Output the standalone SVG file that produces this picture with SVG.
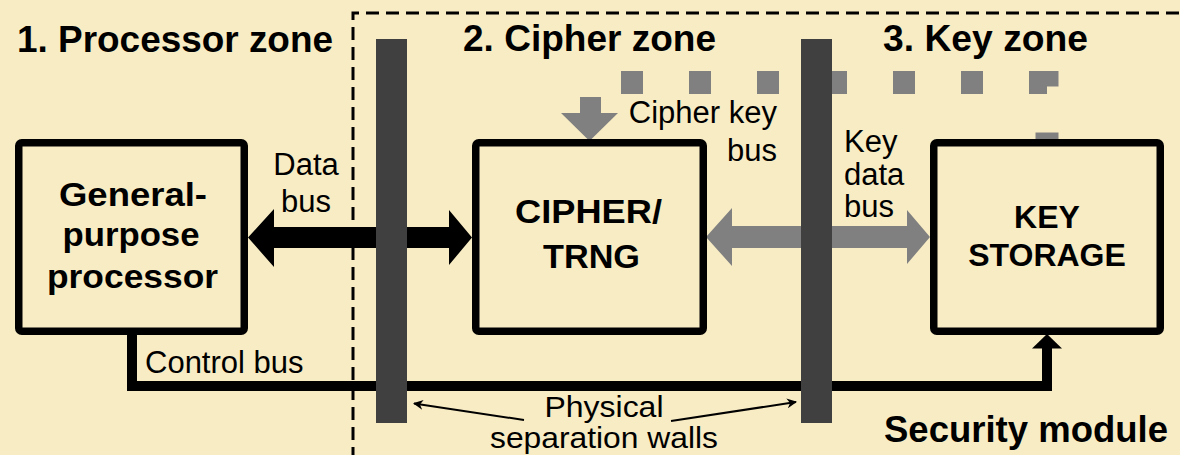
<svg xmlns="http://www.w3.org/2000/svg" width="1180" height="455" viewBox="0 0 1180 455">
<defs>
<style>
.bg{fill:#F8ECC4}
.box{fill:#F8ECC4;stroke:#000;stroke-width:7.5}
.wall{fill:#404040}
.title{font-family:"Liberation Sans",Arial,sans-serif;font-weight:bold;font-size:37px;fill:#000}
.blab{font-family:"Liberation Sans",Arial,sans-serif;font-weight:bold;font-size:34px;fill:#000;text-anchor:middle}
.lab{font-family:"Liberation Sans",Arial,sans-serif;font-size:31px;fill:#000}
.thin{stroke:#000;stroke-width:2;fill:none;marker-end:url(#ah)}
</style>
<marker id="ah" viewBox="0 0 10 10" refX="9" refY="5" markerWidth="5" markerHeight="5" orient="auto" markerUnits="strokeWidth">
<path d="M0,0 L10,5 L0,10 L3,5 Z" fill="#000"/>
</marker>
</defs>
<rect class="bg" x="0" y="0" width="1180" height="455"/>

<g id="security-module">
<path d="M353,460 V13 H1185" fill="none" stroke="#000" stroke-width="3" stroke-dasharray="13 7"/>
<text class="title" x="884" y="442" textLength="284" lengthAdjust="spacingAndGlyphs">Security module</text>
</g>

<g id="zone-titles">
<text class="title" x="17" y="52" textLength="316" lengthAdjust="spacingAndGlyphs">1. Processor zone</text>
<text class="title" x="463" y="51" textLength="253" lengthAdjust="spacingAndGlyphs">2. Cipher zone</text>
<text class="title" x="883" y="51" textLength="205" lengthAdjust="spacingAndGlyphs">3. Key zone</text>
</g>

<g id="connectors">
<path d="M621,82.5 H1047 V143" fill="none" stroke="#808080" stroke-width="23" stroke-dasharray="22 46"/>
<polygon points="580,97 601,97 601,113 618,113 589.5,141 561,113 580,113" fill="#808080"/>
<polygon points="248,237.5 274,209 274,227 449,227 449,210 472,237.5 449,265 449,248 274,248 274,267" fill="#000"/>
<polygon points="706,237 732,208 732,226 907,226 907,210 930,237 907,264 907,248 732,248 732,266" fill="#808080"/>
<path d="M132,334 V386 H1047 V346" fill="none" stroke="#000" stroke-width="10" stroke-linejoin="miter"/>
<polygon points="1032,348.5 1062,348.5 1047,334" fill="#000"/>
<line class="thin" x1="524" y1="420" x2="414" y2="403.5"/>
<line class="thin" x1="671" y1="421" x2="796" y2="402"/>
</g>

<g id="walls">
<rect class="wall" x="376" y="39" width="31" height="384"/>
<rect class="wall" x="801" y="39" width="31" height="384"/>
</g>

<g id="processor">
<rect class="box" x="18.75" y="142.75" width="225.5" height="188.5" rx="3"/>
<text class="blab" x="133" y="206" textLength="148" lengthAdjust="spacingAndGlyphs">General-</text>
<text class="blab" x="131" y="246" textLength="137" lengthAdjust="spacingAndGlyphs">purpose</text>
<text class="blab" x="132.5" y="288" textLength="171" lengthAdjust="spacingAndGlyphs">processor</text>
</g>

<g id="cipher">
<rect class="box" x="475.75" y="142.75" width="227.5" height="188.5" rx="3"/>
<text class="blab" x="588.5" y="223" textLength="147" lengthAdjust="spacingAndGlyphs">CIPHER/</text>
<text class="blab" x="591.5" y="268" textLength="97" lengthAdjust="spacingAndGlyphs">TRNG</text>
</g>

<g id="key-storage">
<rect class="box" x="933.75" y="142.75" width="226.5" height="188.5" rx="3"/>
<text class="blab" x="1047" y="228" style="font-size:32px">KEY</text>
<text class="blab" x="1047" y="266" style="font-size:32px">STORAGE</text>
</g>

<g id="labels">
<text class="lab" x="306" y="175" text-anchor="middle">Data</text>
<text class="lab" x="306" y="212" text-anchor="middle">bus</text>
<text class="lab" x="777" y="123" text-anchor="end">Cipher key</text>
<text class="lab" x="777" y="161" text-anchor="end">bus</text>
<text class="lab" x="844" y="152">Key</text>
<text class="lab" x="844" y="185">data</text>
<text class="lab" x="844" y="217">bus</text>
<text class="lab" x="145" y="373">Control bus</text>
<text class="lab" x="604" y="417" text-anchor="middle" style="font-size:30px" textLength="119" lengthAdjust="spacingAndGlyphs">Physical</text>
<text class="lab" x="604" y="448" text-anchor="middle" style="font-size:30px" textLength="228" lengthAdjust="spacingAndGlyphs">separation walls</text>
</g>
</svg>
